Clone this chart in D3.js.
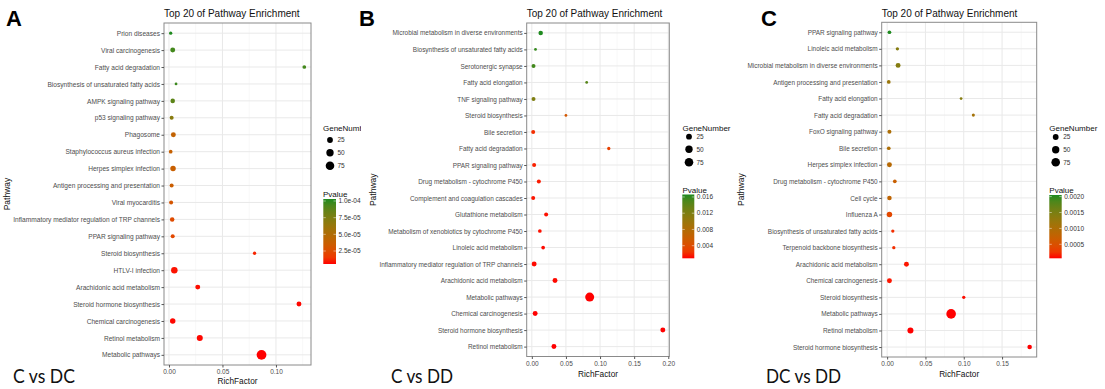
<!DOCTYPE html>
<html>
<head>
<meta charset="utf-8">
<script src="https://cdn.jsdelivr.net/npm/d3@7"></script>
<style>
  html, body { margin: 0; padding: 0; background: #fff; }
  svg { display: block; font-family: "Liberation Sans", Arial, sans-serif; }
</style>
</head>
<body>
<div id="chart"></div>
<script>
// ---- data ----
const categoriesA = ["Prion diseases", "Viral carcinogenesis", "Fatty acid degradation",
  "Biosynthesis of unsaturated fatty acids", "AMPK signaling pathway", "p53 signaling pathway",
  "Phagosome", "Staphylococcus aureus infection", "Herpes simplex infection",
  "Antigen processing and presentation", "Viral myocarditis",
  "Inflammatory mediator regulation of TRP channels", "PPAR signaling pathway",
  "Steroid biosynthesis", "HTLV-I infection", "Arachidonic acid metabolism",
  "Steroid hormone biosynthesis", "Chemical carcinogenesis", "Retinol metabolism", "Metabolic pathways"];
const richFactorA = [0.0016, 0.0035, 0.1265, 0.0066, 0.0035, 0.0025, 0.0041, 0.0016, 0.0038, 0.0025,
  0.0020, 0.0030, 0.0035, 0.0800, 0.0050, 0.0269, 0.1215, 0.0035, 0.0288, 0.0865];
const geneNumberA = [3, 15, 5, 1, 11, 7, 15, 5, 21, 7, 7, 11, 7, 3, 35, 15, 15, 21, 28, 105];
const pvalueA = [1.03e-4, 9.6e-5, 9.6e-5, 9.8e-5, 8.8e-5, 7.0e-5, 4.0e-5, 3.8e-5, 3.7e-5, 3.6e-5,
  3.0e-5, 2.4e-5, 2.2e-5, 1.0e-5, 7e-6, 6.5e-6, 6e-6, 6e-6, 6e-6, 5.5e-6];

const categoriesB = ["Microbial metabolism in diverse environments", "Biosynthesis of unsaturated fatty acids",
  "Serotonergic synapse", "Fatty acid elongation", "TNF signaling pathway", "Steroid biosynthesis",
  "Bile secretion", "Fatty acid degradation", "PPAR signaling pathway", "Drug metabolism - cytochrome P450",
  "Complement and coagulation cascades", "Glutathione metabolism",
  "Metabolism of xenobiotics by cytochrome P450", "Linoleic acid metabolism",
  "Inflammatory mediator regulation of TRP channels", "Arachidonic acid metabolism",
  "Metabolic pathways", "Chemical carcinogenesis", "Steroid hormone biosynthesis", "Retinol metabolism"];
const richFactorB = [0.013, 0.0054, 0.0025, 0.0804, 0.0025, 0.050, 0.002, 0.1128, 0.0034, 0.0103,
  0.002, 0.021, 0.0118, 0.0166, 0.0034, 0.034, 0.0848, 0.0049, 0.192, 0.0324];
const geneNumberB = [11, 1, 7, 1, 7, 1, 7, 3, 7, 7, 7, 7, 5, 5, 15, 15, 85, 15, 15, 15];
const pvalueB = [0.0166, 0.0160, 0.0155, 0.0145, 0.0120, 0.0050, 0.0020, 0.0030, 0.0015, 0.0013,
  0.0012, 0.0011, 0.0011, 0.0010, 0.0010, 0.0010, 0.0009, 0.0009, 0.0009, 0.0009];

const categoriesC = ["PPAR signaling pathway", "Linoleic acid metabolism",
  "Microbial metabolism in diverse environments", "Antigen processing and presentation",
  "Fatty acid elongation", "Fatty acid degradation", "FoxO signaling pathway", "Bile secretion",
  "Herpes simplex infection", "Drug metabolism - cytochrome P450", "Cell cycle", "Influenza A",
  "Biosynthesis of unsaturated fatty acids", "Terpenoid backbone biosynthesis",
  "Arachidonic acid metabolism", "Chemical carcinogenesis", "Steroid biosynthesis",
  "Metabolic pathways", "Retinol metabolism", "Steroid hormone biosynthesis"];
const richFactorC = [0.003, 0.0134, 0.0143, 0.0021, 0.0965, 0.1125, 0.003, 0.0021, 0.003, 0.010,
  0.003, 0.003, 0.0074, 0.0087, 0.0252, 0.003, 0.100, 0.0835, 0.0304, 0.186];
const geneNumberC = [5, 3, 15, 5, 1, 2, 7, 5, 15, 5, 11, 21, 3, 3, 15, 15, 3, 100, 28, 11];
const pvalueC = [0.00205, 0.0014, 0.0014, 0.0012, 0.0014, 0.0011, 0.0010, 0.0010, 0.0009, 0.0007,
  0.0008, 0.0004, 0.0002, 0.0002, 0.0001, 0.0001, 0.00008, 0.00006, 0.00006, 0.00006];

// ticks / labels
const xTicksA = [0, 0.05, 0.10];
const xTicksB = [0, 0.05, 0.10, 0.15, 0.20];
const xTicksC = [0, 0.05, 0.10, 0.15];
const pTicksA = [2.5e-5, 5.0e-5, 7.5e-5, 1.0e-4];
const pLabelsA = ["2.5e-05", "5.0e-05", "7.5e-05", "1.0e-04"];
const pTicksB = [0.004, 0.008, 0.012, 0.016];
const pLabelsB = ["0.004", "0.008", "0.012", "0.016"];
const pTicksC = [0.0005, 0.0010, 0.0015, 0.0020];
const pLabelsC = ["0.0005", "0.0010", "0.0015", "0.0020"];
const sizeLegend = [25, 50, 75];

const W = 1105, H = 389;
const svg = d3.select('#chart').append('svg').attr('width', W).attr('height', H);

const sizeScale = d3.scaleSqrt().domain([0, 100]).range([1, 4.8]);
const LOW = '#ff0000', HIGH = '#1f8a1f';

function drawPanel(p) {
  const L = p.layout;
  let root = svg.append('g');
  if (L.clipRight) {
    svg.append('clipPath').attr('id', 'clip' + p.letter)
      .append('rect').attr('x', 0).attr('y', 0).attr('width', L.clipRight).attr('height', H);
    root.attr('clip-path', `url(#clip${p.letter})`);
  }

  const rows = p.cats.map((c, i) => ({ cat: c, rf: p.rich[i], n: p.genes[i], pv: p.pval[i] }));

  const [rmin, rmax] = d3.extent(p.rich);
  const pad = (rmax - rmin) * 0.05;
  const x = d3.scaleLinear().domain([rmin - pad, rmax + pad]).range([L.left, L.right]);
  const y = d3.scalePoint().domain(p.cats).range([L.top, L.bottom]).padding(0.6);
  const pExt = d3.extent(p.pval);
  const color = d3.scaleLinear().domain(pExt).range([LOW, HIGH]).interpolate(d3.interpolateLab);

  // panel letter + caption
  root.append('text').attr('x', L.letterX).attr('y', 26)
    .attr('font-size', '22px').attr('font-weight', 'bold').attr('fill', '#000').text(p.letter);
  root.append('text').attr('x', L.captionX).attr('y', 383)
    .attr('font-family', 'Lato, "Open Sans", sans-serif')
    .attr('font-size', '20px').attr('fill', '#111')
    .attr('textLength', L.captionW).attr('lengthAdjust', 'spacingAndGlyphs')
    .text(p.caption);

  // title
  root.append('text').attr('x', L.left).attr('y', 17)
    .attr('font-size', '10px').attr('fill', '#111').text('Top 20 of Pathway Enrichment');

  // grid
  const minor = d3.range(xTicksMinorStart(x), x.domain()[1], 0.05);
  root.append('g').selectAll('line').data(minor).join('line')
    .attr('x1', d => x(d)).attr('x2', d => x(d)).attr('y1', L.top).attr('y2', L.bottom)
    .attr('stroke', '#f3f3f3').attr('stroke-width', 0.6);
  root.append('g').selectAll('line').data(p.xTicks).join('line')
    .attr('x1', d => x(d)).attr('x2', d => x(d)).attr('y1', L.top).attr('y2', L.bottom)
    .attr('stroke', '#e9e9e9').attr('stroke-width', 1);
  root.append('g').selectAll('line').data(p.cats).join('line')
    .attr('x1', L.left).attr('x2', L.right).attr('y1', d => y(d)).attr('y2', d => y(d))
    .attr('stroke', '#e9e9e9').attr('stroke-width', 1);

  // points
  root.append('g').selectAll('circle').data(rows).join('circle')
    .attr('cx', d => x(d.rf)).attr('cy', d => y(d.cat))
    .attr('r', d => sizeScale(d.n)).attr('fill', d => color(d.pv));

  // border
  root.append('rect').attr('x', L.left).attr('y', L.top)
    .attr('width', L.right - L.left).attr('height', L.bottom - L.top)
    .attr('fill', 'none').attr('stroke', '#8a8a8a').attr('stroke-width', 1);

  // y axis
  const yAxis = root.append('g').attr('transform', `translate(${L.left},0)`)
    .call(d3.axisLeft(y).tickSize(2.5).tickPadding(1.5));
  yAxis.select('.domain').remove();
  yAxis.selectAll('line').attr('stroke', '#555');
  yAxis.selectAll('text').attr('fill', '#4d4d4d').attr('font-size', L.yFont + 'px')
    .attr('font-family', '"Liberation Sans", Arial, sans-serif');

  // x axis
  const xAxis = root.append('g').attr('transform', `translate(0,${L.bottom})`)
    .call(d3.axisBottom(x).tickValues(p.xTicks).tickFormat(d3.format('.2f')).tickSize(2.5).tickPadding(2));
  xAxis.select('.domain').remove();
  xAxis.selectAll('line').attr('stroke', '#555');
  xAxis.selectAll('text').attr('fill', '#4d4d4d').attr('font-size', '6.5px')
    .attr('font-family', '"Liberation Sans", Arial, sans-serif');

  root.append('text').attr('x', (L.left + L.right) / 2).attr('y', L.xTitleY)
    .attr('text-anchor', 'middle').attr('font-size', '8.3px').attr('fill', '#111').text('RichFactor');
  root.append('text')
    .attr('transform', `translate(${L.yTitleX},${(L.top + L.bottom) / 2}) rotate(-90)`)
    .attr('text-anchor', 'middle').attr('font-size', '8.5px').attr('fill', '#111').text('Pathway');

  // size legend
  const lg = L.legend;
  root.append('text').attr('x', lg.x).attr('y', lg.sizeTitleY)
    .attr('font-size', '8px').attr('fill', '#111').text('GeneNumber');
  sizeLegend.forEach((v, i) => {
    const cy = lg.sizeY[i];
    root.append('circle').attr('cx', lg.dotX).attr('cy', cy).attr('r', sizeScale(v)).attr('fill', '#000');
    root.append('text').attr('x', lg.dotX + 7.5).attr('y', cy).attr('dy', '0.35em')
      .attr('font-size', '6.5px').attr('fill', '#333').text(v);
  });

  // colour legend
  root.append('text').attr('x', lg.x).attr('y', lg.pTitleY)
    .attr('font-size', '8px').attr('fill', '#111').text('Pvalue');
  const gradId = 'grad' + p.letter;
  const grad = svg.append('defs').append('linearGradient').attr('id', gradId)
    .attr('x1', 0).attr('x2', 0).attr('y1', 1).attr('y2', 0);
  d3.range(0, 1.0001, 0.1).forEach(t => {
    grad.append('stop').attr('offset', t)
      .attr('stop-color', color(pExt[0] + t * (pExt[1] - pExt[0])));
  });
  const barY = d3.scaleLinear().domain(pExt).range([lg.barBottom, lg.barTop]);
  root.append('rect').attr('x', lg.barX).attr('y', lg.barTop)
    .attr('width', lg.barW).attr('height', lg.barBottom - lg.barTop)
    .attr('fill', `url(#${gradId})`);
  p.pTicks.forEach((t, i) => {
    const ty = barY(t);
    root.append('line').attr('x1', lg.barX).attr('x2', lg.barX + 2.5).attr('y1', ty).attr('y2', ty)
      .attr('stroke', '#fff').attr('stroke-opacity', 0.6).attr('stroke-width', 0.8);
    root.append('line').attr('x1', lg.barX + lg.barW - 2.5).attr('x2', lg.barX + lg.barW).attr('y1', ty).attr('y2', ty)
      .attr('stroke', '#fff').attr('stroke-opacity', 0.6).attr('stroke-width', 0.8);
    root.append('text').attr('x', lg.barX + lg.barW + 2.5).attr('y', ty).attr('dy', '0.35em')
      .attr('font-size', '6.5px').attr('fill', '#333').text(p.pLabels[i]);
  });
}

function xTicksMinorStart(x) {
  // minor gridlines sit halfway between the 0.05 majors
  const lo = x.domain()[0];
  return Math.ceil((lo - 0.025) / 0.05) * 0.05 + 0.025;
}

drawPanel({
  letter: 'A', caption: 'C vs DC',
  cats: categoriesA, rich: richFactorA, genes: geneNumberA, pval: pvalueA,
  xTicks: xTicksA, pTicks: pTicksA, pLabels: pLabelsA,
  layout: {
    left: 164, right: 311, top: 23, bottom: 365, clipRight: 361,
    letterX: 6, captionX: 13, captionW: 62, yTitleX: 10, xTitleY: 384, yFont: 6.6,
    legend: { x: 323, sizeTitleY: 131, dotX: 330, sizeY: [140, 152.7, 165.7],
      pTitleY: 196.5, barX: 323.3, barW: 12.7, barTop: 199, barBottom: 264 }
  }
});

drawPanel({
  letter: 'B', caption: 'C vs DD',
  cats: categoriesB, rich: richFactorB, genes: geneNumberB, pval: pvalueB,
  xTicks: xTicksB, pTicks: pTicksB, pLabels: pLabelsB,
  layout: {
    left: 526.7, right: 669.3, top: 23, bottom: 356.5,
    letterX: 359, captionX: 391, captionW: 62, yTitleX: 375.5, xTitleY: 377, yFont: 6.45,
    legend: { x: 682.5, sizeTitleY: 131, dotX: 689, sizeY: [136.7, 149.3, 162.3],
      pTitleY: 192.5, barX: 682.3, barW: 12, barTop: 194.5, barBottom: 258.3 }
  }
});

drawPanel({
  letter: 'C', caption: 'DC vs DD',
  cats: categoriesC, rich: richFactorC, genes: geneNumberC, pval: pvalueC,
  xTicks: xTicksC, pTicks: pTicksC, pLabels: pLabelsC,
  layout: {
    left: 881.7, right: 1036.7, top: 22.3, bottom: 357,
    letterX: 761, captionX: 766, captionW: 75, yTitleX: 744, xTitleY: 377, yFont: 6.45,
    legend: { x: 1049.3, sizeTitleY: 131, dotX: 1055.7, sizeY: [137, 149.7, 162.3],
      pTitleY: 192.5, barX: 1049.3, barW: 12.4, barTop: 195, barBottom: 258.3 }
  }
});
</script>
</body>
</html>
